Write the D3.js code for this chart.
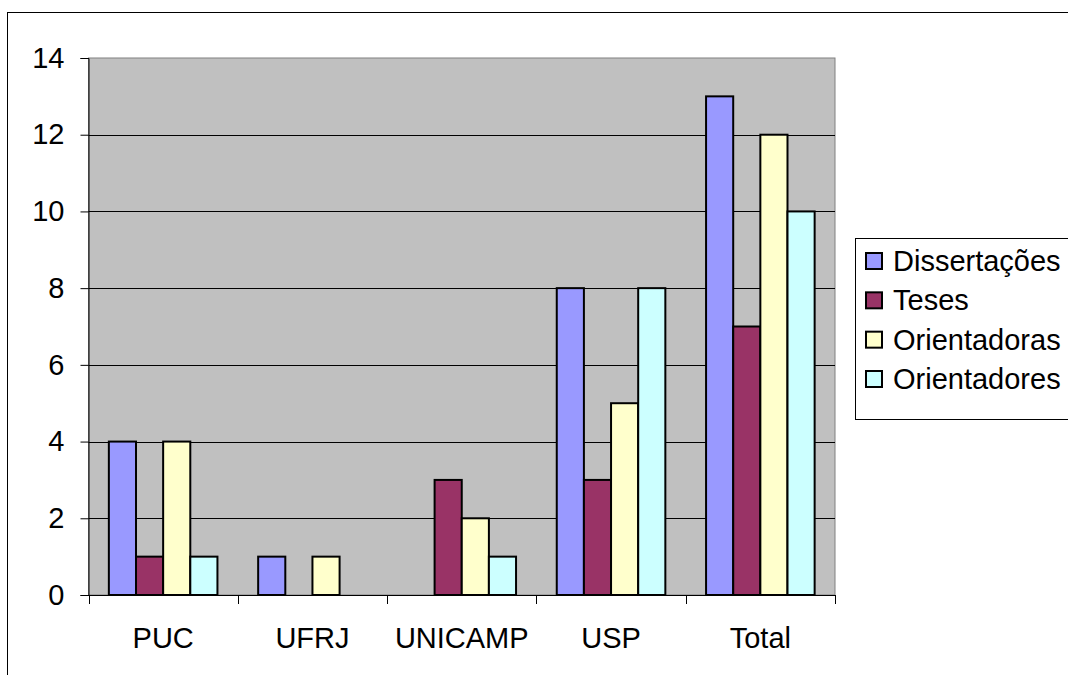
<!DOCTYPE html>
<html>
<head>
<meta charset="utf-8">
<script src="https://cdn.jsdelivr.net/npm/d3@7"></script>
<style>
html,body{margin:0;padding:0;background:#fff;}
svg{display:block;font-family:"Liberation Sans",Arial,sans-serif;}
</style>
</head>
<body>
<svg id="c" width="1068" height="675"></svg>
<script>
const categories = ["PUC","UFRJ","UNICAMP","USP","Total"];
const seriesNames = ["Dissertações","Teses","Orientadoras","Orientadores"];
const dissertacoes = [4,1,0,8,13];
const teses = [1,0,3,3,7];
const orientadoras = [4,1,2,5,12];
const orientadores = [1,0,1,8,10];
const yTicks = [0,2,4,6,8,10,12,14];
const colors = ["#9999FF","#993366","#FFFFCC","#CCFFFF"];

const seriesValues = [dissertacoes, teses, orientadoras, orientadores];
const svg = d3.select("#c");

// outer chart border
svg.append("rect").attr("x",7.5).attr("y",12.5).attr("width",1100).attr("height",700)
  .attr("fill","#fff").attr("stroke","#000").attr("stroke-width",1);

const L=88.5, R=835, T=58, B=595;
const x = d3.scaleBand().domain(categories).range([L,R]).paddingInner(0).paddingOuter(0);
const xs = d3.scaleBand().domain(seriesNames).range([0,x.bandwidth()]).paddingInner(0).paddingOuter(0.75);
const y = d3.scaleLinear().domain([0,14]).range([B,T]);

svg.append("rect").attr("x",L).attr("y",T).attr("width",R-L).attr("height",B-T)
  .attr("fill","#C0C0C0").attr("stroke","#808080").attr("stroke-width",1);

// gridlines
svg.append("g").selectAll("line").data(yTicks.filter(d=>d>0&&d<14)).join("line")
  .attr("x1",L).attr("x2",R).attr("y1",d=>Math.round(y(d))+0.5).attr("y2",d=>Math.round(y(d))+0.5)
  .attr("stroke","#000").attr("stroke-width",1);

// bars
const g = svg.append("g");
seriesValues.forEach((vals,si)=>{
  g.selectAll(null).data(categories.map((c,i)=>({c,v:vals[i]})).filter(d=>d.v>0)).join("rect")
    .attr("x",d=>x(d.c)+xs(seriesNames[si]))
    .attr("y",d=>y(d.v))
    .attr("width",xs.bandwidth())
    .attr("height",d=>B-y(d.v))
    .attr("fill",colors[si]).attr("stroke","#000").attr("stroke-width",2);
});

// y axis
const yAxis = d3.axisLeft(y).tickValues(yTicks).tickSize(8).tickPadding(16).tickFormat(d3.format("d"));
const ya = svg.append("g").attr("transform",`translate(${L},0)`).call(yAxis);
ya.select(".domain").attr("stroke","#000");
ya.selectAll(".tick line").attr("stroke","#000");
ya.selectAll("text").attr("font-size",29).attr("fill","#000").attr("font-family","Liberation Sans, Arial, sans-serif");

// x axis
const xAxis = d3.axisBottom(x).tickSize(0).tickPadding(0);
const xa = svg.append("g").attr("transform",`translate(0,${B})`).call(xAxis);
xa.select(".domain").attr("stroke","#000").attr("d",`M${L},0.5H${R}`);
xa.selectAll(".tick text").attr("font-size",29).attr("fill","#000").attr("dy",0).attr("y",53)
  .attr("font-family","Liberation Sans, Arial, sans-serif");
// category boundary ticks
xa.append("g").selectAll("line").data(categories.map(c=>x(c)).concat([R])).join("line")
  .attr("x1",d=>Math.round(d)+0.5).attr("x2",d=>Math.round(d)+0.5).attr("y1",0).attr("y2",9)
  .attr("stroke","#000");

// legend
const lg = svg.append("g");
lg.append("rect").attr("x",855.5).attr("y",238.5).attr("width",240).attr("height",181)
  .attr("fill","#fff").attr("stroke","#000");
const rowY = d3.scalePoint().domain(seriesNames).range([261,379]);
seriesNames.forEach((s,i)=>{
  lg.append("rect").attr("x",866).attr("y",rowY(s)-8).attr("width",16).attr("height",16)
    .attr("fill",colors[i]).attr("stroke","#000").attr("stroke-width",2);
  lg.append("text").attr("x",893).attr("y",rowY(s)+10).attr("font-size",29).attr("fill","#000").text(s);
});
</script>
</body>
</html>
